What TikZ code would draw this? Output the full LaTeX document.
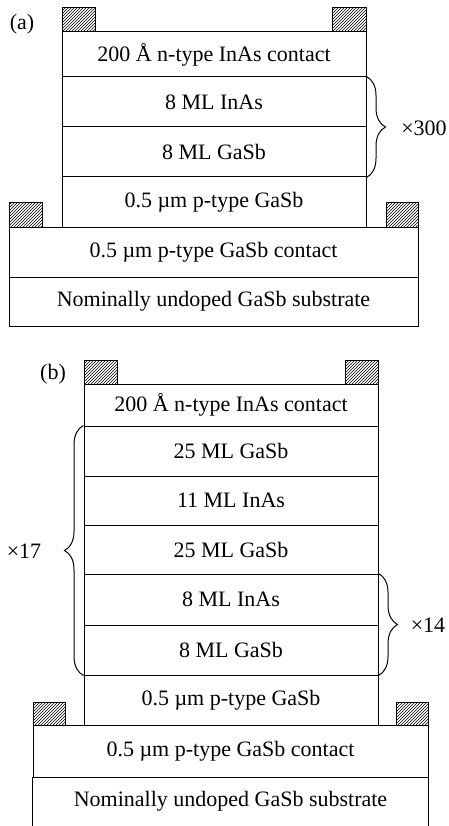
\documentclass[tikz,border=0pt]{standalone}
\usepackage{fontspec}
\setmainfont{Liberation Serif}
\usetikzlibrary{patterns,decorations.pathreplacing}

\begin{document}
\begin{tikzpicture}[x=1pt,y=-1pt,
  layer/.style={draw,line width=1pt,inner sep=0pt,minimum height=50pt,font=\fontsize{22}{26}\selectfont},
  pad/.style={draw,line width=1pt,pattern=north east lines},
  brc/.style={decorate,decoration={brace,amplitude=19pt},line width=1pt},
  lbl/.style={font=\fontsize{22}{26}\selectfont}]
\useasboundingbox (0,0) rectangle (449,826);
% (a)
\node[lbl] (tagA) at (22,24) {(a)};
\draw[pad] (62,8) rectangle (95,32);
\draw[pad] (332,8) rectangle (366,32);
\draw[pad] (9,203) rectangle (42,227);
\draw[pad] (386,203) rectangle (418,227);
\node[layer,minimum width=304pt,minimum height=45pt] (ncA) at (214,54.5) {200 Å n-type InAs contact};
\node[layer,minimum width=304pt] (inasA) at (214,102) {8 ML InAs};
\node[layer,minimum width=304pt] (gasbA) at (214,152) {8 ML GaSb};
\node[layer,minimum width=304pt] (pA) at (214,202) {0.5 µm p-type GaSb};
\node[layer,minimum width=409pt] (pcA) at (213.5,252) {0.5 µm p-type GaSb contact};
\node[layer,minimum width=409pt,minimum height=49pt] (subA) at (213.5,301.5) {Nominally undoped GaSb substrate};
\draw[brc] (inasA.north east) -- (gasbA.south east);
\node[lbl] (nA) at (424,128) {×300};
% (b)
\node[lbl] (tagB) at (53,374) {(b)};
\draw[pad] (84,360) rectangle (117,384);
\draw[pad] (345,360) rectangle (378,384);
\draw[pad] (33,702) rectangle (65,725);
\draw[pad] (396,702) rectangle (428,725);
\node[layer,minimum width=294pt,minimum height=42pt] (ncB) at (231,405) {200 Å n-type InAs contact};
\node[layer,minimum width=294pt] (gasbB1) at (231,451) {25 ML GaSb};
\node[layer,minimum width=294pt,minimum height=49pt] (inasB1) at (231,500.5) {11 ML InAs};
\node[layer,minimum width=294pt,minimum height=49pt] (gasbB2) at (231,549.5) {25 ML GaSb};
\node[layer,minimum width=294pt,minimum height=51pt] (inasB2) at (231,599.5) {8 ML InAs};
\node[layer,minimum width=294pt] (gasbB3) at (231,650) {8 ML GaSb};
\node[layer,minimum width=294pt] (pB) at (231,700) {0.5 µm p-type GaSb};
\node[layer,minimum width=395pt,minimum height=52pt] (pcB) at (230.5,751) {0.5 µm p-type GaSb contact};
\node[layer,draw=none,minimum width=395pt,minimum height=49pt] (subB) at (230.5,801.5) {Nominally undoped GaSb substrate};
\draw[line width=1pt] (subB.south west) -- (subB.north west);
\draw[line width=1pt] (subB.south east) -- (subB.north east);
\draw[brc] (gasbB3.south west) -- (gasbB1.north west);
\node[lbl] (nB1) at (24,551) {×17};
\draw[brc] (inasB2.north east) -- (gasbB3.south east);
\node[lbl] (nB2) at (428,625) {×14};
\end{tikzpicture}
\end{document}
